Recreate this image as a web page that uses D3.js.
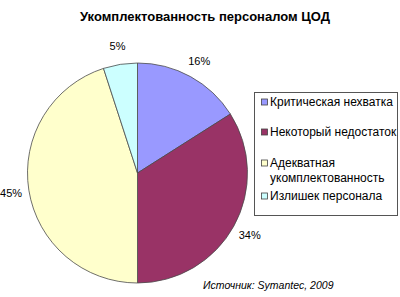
<!DOCTYPE html>
<html>
<head>
<meta charset="utf-8">
<script src="https://cdn.jsdelivr.net/npm/d3@7"></script>
<style>
  body { margin: 0; background: #fff; }
  text { font-family: "Liberation Sans", Arial, sans-serif; }
</style>
</head>
<body>
<div id="chart"></div>
<script>
// data
var categories = ["Критическая нехватка", "Некоторый недостаток", "Адекватная укомплектованность", "Излишек персонала"];
var legendLines = [["Критическая нехватка"], ["Некоторый недостаток"], ["Адекватная", "укомплектованность"], ["Излишек персонала"]];
var values = [16, 34, 45, 5];
var colors = ["#9999ff", "#993366", "#ffffcc", "#ccffff"];

var svgWidth = 400;
var svgHeight = 297;

var svg = d3.select("#chart")
  .append("svg")
  .attr("width", svgWidth)
  .attr("height", svgHeight);

// title
svg.append("text")
  .attr("x", 205)
  .attr("y", 21)
  .attr("text-anchor", "middle")
  .style("font-size", "13px")
  .style("font-weight", "bold")
  .text("Укомплектованность персоналом ЦОД");

var cx = 137.5, cy = 173, radius = 110;

var pie = d3.pie().sort(null).value(d => d);
var arc = d3.arc().innerRadius(0).outerRadius(radius);
var labelArc = d3.arc().innerRadius(128).outerRadius(128);

var pieGroup = svg.append("g")
  .attr("transform", `translate(${cx}, ${cy})`);

var arcs = pie(values);

pieGroup.selectAll("path")
  .data(arcs)
  .enter()
  .append("path")
  .attr("d", arc)
  .attr("fill", (d, i) => colors[i])
  .attr("stroke", "#4a4a4a")
  .attr("stroke-width", 0.8);

pieGroup.selectAll("text.lbl")
  .data(arcs)
  .enter()
  .append("text")
  .attr("class", "lbl")
  .attr("x", d => labelArc.centroid(d)[0])
  .attr("y", d => labelArc.centroid(d)[1])
  .attr("dy", "0.35em")
  .attr("text-anchor", "middle")
  .style("font-size", "11px")
  .text(d => d.data + "%");

// legend
var legend = svg.append("g");
legend.append("rect")
  .attr("x", 254.5)
  .attr("y", 92.5)
  .attr("width", 143)
  .attr("height", 123)
  .attr("fill", "#fff")
  .attr("stroke", "#555")
  .attr("stroke-width", 1);

var rowY = [102, 132, 163, 196];

var items = legend.selectAll("g.item")
  .data(categories)
  .enter()
  .append("g")
  .attr("class", "item")
  .attr("transform", (d, i) => `translate(261, ${rowY[i]})`);

items.append("rect")
  .attr("x", 0.5)
  .attr("y", -3)
  .attr("width", 6)
  .attr("height", 6)
  .attr("fill", (d, i) => colors[i])
  .attr("stroke", "#444")
  .attr("stroke-width", 0.8);

items.each(function(d, i) {
  var t = d3.select(this).append("text")
    .attr("x", 9)
    .attr("y", 0)
    .style("font-size", "12px");
  legendLines[i].forEach(function(line, j) {
    t.append("tspan")
      .attr("x", 9)
      .attr("dy", j === 0 ? "0.35em" : "15px")
      .text(line);
  });
});

// source note
svg.append("text")
  .attr("x", 203)
  .attr("y", 289)
  .style("font-size", "10.5px")
  .style("font-style", "italic")
  .text("Источник: Symantec, 2009");
</script>
</body>
</html>
